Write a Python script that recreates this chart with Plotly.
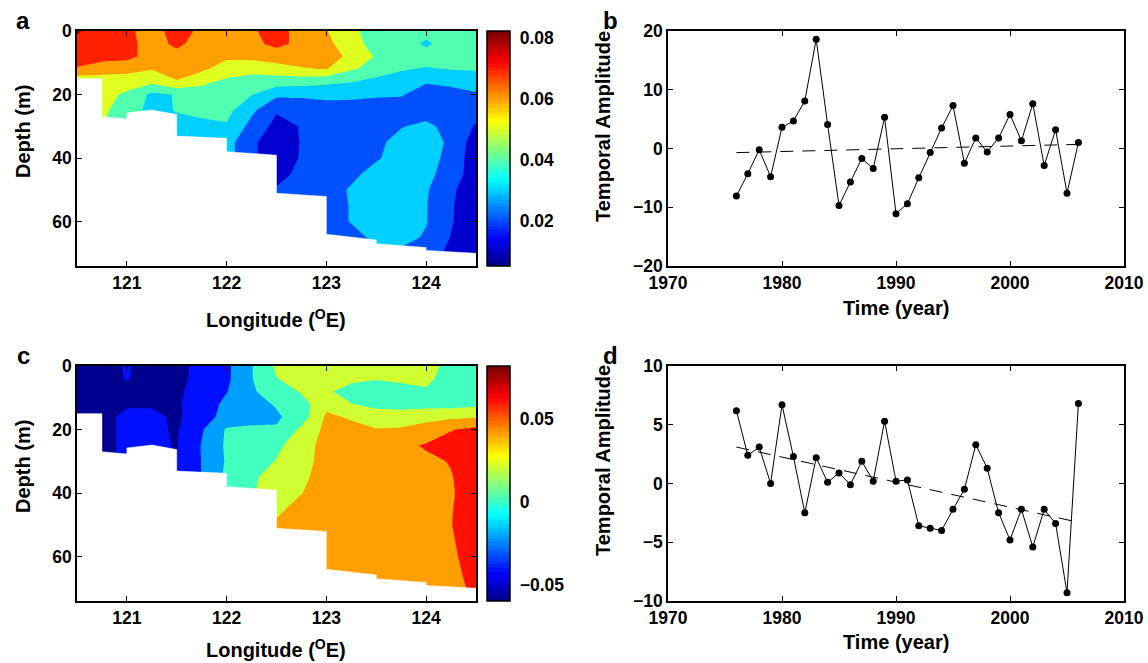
import numpy as np
import plotly.graph_objects as go

W, H = 1148, 663

# ---------------- data ----------------
lons = [120.5, 120.75, 121.0, 121.25, 121.5, 121.75, 122.0, 122.25, 122.5,
        122.75, 123.0, 123.25, 123.5, 123.75, 124.0, 124.25, 124.5]
depths = [0, 4, 8, 12, 16, 20, 25, 30, 35, 40, 45, 50, 55, 60, 65, 70, 74]

# panel a: first spatial mode (rows = depth, cols = longitude)
mode_a = [
    [0.081, 0.076, 0.072, 0.066, 0.074, 0.068, 0.066, 0.069, 0.073, 0.067, 0.0605, 0.052, 0.046, 0.045, 0.044, 0.045, 0.046],
    [0.077, 0.076, 0.073, 0.066, 0.072, 0.066, 0.065, 0.068, 0.072, 0.068, 0.063, 0.053, 0.047, 0.046, 0.038, 0.046, 0.046],
    [0.075, 0.074, 0.073, 0.066, 0.067, 0.066, 0.062, 0.063, 0.066, 0.066, 0.064, 0.058, 0.049, 0.046, 0.045, 0.045, 0.044],
    [0.069, 0.064, 0.063, 0.0605, 0.063, 0.062, 0.055, 0.053, 0.055, 0.059, 0.0605, 0.051, 0.047, 0.041, 0.039, 0.0405, 0.041],
    [0.052, 0.055, 0.055, 0.052, 0.0595, 0.052, 0.048, 0.046, 0.045, 0.044, 0.042, 0.0405, 0.036, 0.035, 0.0305, 0.032, 0.034],
    [0.050, 0.054, 0.048, 0.038, 0.0405, 0.046, 0.045, 0.0405, 0.032, 0.032, 0.033, 0.032, 0.031, 0.0305, 0.027, 0.027, 0.029],
    [0.050, 0.052, 0.045, 0.037, 0.0405, 0.043, 0.043, 0.032, 0.021, 0.023, 0.025, 0.026, 0.026, 0.027, 0.026, 0.025, 0.024],
    [0.050, 0.050, 0.045, 0.037, 0.037, 0.037, 0.039, 0.027, 0.017, 0.0205, 0.025, 0.026, 0.027, 0.0295, 0.032, 0.027, 0.019],
    [0.050, 0.050, 0.045, 0.037, 0.036, 0.036, 0.034, 0.022, 0.014, 0.0205, 0.025, 0.026, 0.028, 0.033, 0.035, 0.028, 0.015],
    [0.050, 0.050, 0.045, 0.037, 0.036, 0.035, 0.034, 0.022, 0.013, 0.021, 0.025, 0.027, 0.029, 0.034, 0.034, 0.027, 0.014],
    [0.050, 0.050, 0.045, 0.037, 0.036, 0.035, 0.034, 0.022, 0.016, 0.023, 0.025, 0.028, 0.033, 0.034, 0.033, 0.025, 0.015],
    [0.050, 0.050, 0.045, 0.037, 0.036, 0.035, 0.034, 0.022, 0.021, 0.024, 0.026, 0.031, 0.034, 0.034, 0.031, 0.022, 0.013],
    [0.050, 0.050, 0.045, 0.037, 0.036, 0.035, 0.034, 0.022, 0.021, 0.024, 0.026, 0.0305, 0.034, 0.035, 0.0305, 0.021, 0.013],
    [0.050, 0.050, 0.045, 0.037, 0.036, 0.035, 0.034, 0.022, 0.021, 0.024, 0.026, 0.0305, 0.034, 0.035, 0.0305, 0.021, 0.012],
    [0.050, 0.050, 0.045, 0.037, 0.036, 0.035, 0.034, 0.022, 0.021, 0.024, 0.026, 0.027, 0.032, 0.033, 0.029, 0.0195, 0.012],
    [0.050, 0.050, 0.045, 0.037, 0.036, 0.035, 0.034, 0.022, 0.021, 0.024, 0.026, 0.027, 0.028, 0.028, 0.024, 0.018, 0.013],
    [0.050, 0.050, 0.045, 0.037, 0.036, 0.035, 0.034, 0.022, 0.021, 0.024, 0.026, 0.027, 0.028, 0.028, 0.024, 0.018, 0.013],
]

# panel c: second spatial mode
mode_c = [
    [-0.055, -0.05, -0.038, -0.05, -0.046, -0.034, -0.024, -0.001, 0.023, 0.03, 0.032, 0.033, 0.032, 0.03, 0.026, 0.015, 0.014],
    [-0.055, -0.05, -0.0385, -0.05, -0.046, -0.033, -0.024, -0.001, 0.0195, 0.025, 0.03, 0.023, 0.021, 0.024, 0.024, 0.012, 0.01],
    [-0.055, -0.05, -0.046, -0.05, -0.043, -0.033, -0.021, -0.002, 0.008, 0.022, 0.022, 0.015, 0.012, 0.013, 0.018, 0.01, 0.008],
    [-0.055, -0.05, -0.043, -0.042, -0.042, -0.032, -0.015, -0.008, 0.002, 0.012, 0.035, 0.0205, 0.014, 0.012, 0.012, 0.012, 0.015],
    [-0.055, -0.048, -0.034, -0.036, -0.043, -0.03, -0.012, -0.008, -0.003, 0.01, 0.043, 0.038, 0.03, 0.03, 0.035, 0.036, 0.038],
    [-0.055, -0.048, -0.034, -0.036, -0.042, -0.022, 0.002, 0.004, 0.002, 0.024, 0.045, 0.045, 0.041, 0.042, 0.046, 0.059, 0.065],
    [-0.055, -0.048, -0.034, -0.036, -0.041, -0.019, 0.003, 0.008, 0.016, 0.03, 0.048, 0.05, 0.05, 0.055, 0.062, 0.067, 0.07],
    [-0.055, -0.048, -0.034, -0.036, -0.0405, -0.0195, 0.002, 0.01, 0.021, 0.033, 0.047, 0.05, 0.051, 0.053, 0.056, 0.061, 0.07],
    [-0.055, -0.048, -0.034, -0.036, -0.0405, -0.0195, 0.004, 0.016, 0.03, 0.036, 0.048, 0.05, 0.05, 0.052, 0.055, 0.059, 0.07],
    [-0.055, -0.048, -0.034, -0.036, -0.0405, -0.0195, 0.005, 0.018, 0.03, 0.0395, 0.048, 0.05, 0.05, 0.052, 0.054, 0.058, 0.07],
    [-0.055, -0.048, -0.034, -0.036, -0.0405, -0.0195, 0.005, 0.018, 0.037, 0.045, 0.048, 0.05, 0.05, 0.052, 0.054, 0.059, 0.07],
    [-0.055, -0.048, -0.034, -0.036, -0.0405, -0.0195, 0.005, 0.018, 0.042, 0.045, 0.048, 0.05, 0.05, 0.052, 0.054, 0.0595, 0.07],
    [-0.055, -0.048, -0.034, -0.036, -0.0405, -0.0195, 0.005, 0.018, 0.042, 0.045, 0.048, 0.05, 0.05, 0.052, 0.054, 0.058, 0.07],
    [-0.055, -0.048, -0.034, -0.036, -0.0405, -0.0195, 0.005, 0.018, 0.042, 0.045, 0.048, 0.05, 0.05, 0.052, 0.054, 0.056, 0.07],
    [-0.055, -0.048, -0.034, -0.036, -0.0405, -0.0195, 0.005, 0.018, 0.042, 0.045, 0.048, 0.05, 0.05, 0.052, 0.054, 0.054, 0.068],
    [-0.055, -0.048, -0.034, -0.036, -0.0405, -0.0195, 0.005, 0.018, 0.042, 0.045, 0.048, 0.05, 0.05, 0.052, 0.053, 0.052, 0.065],
    [-0.055, -0.048, -0.034, -0.036, -0.0405, -0.0195, 0.005, 0.018, 0.042, 0.045, 0.048, 0.05, 0.05, 0.052, 0.053, 0.052, 0.065],
]

# sea-floor profile (longitude, depth in m)
bottom_lon = [120.5, 120.75, 120.75, 121.0, 121.0, 121.25, 121.5, 121.5, 122.0, 122.0,
              122.5, 122.5, 123.0, 123.0, 123.5, 123.5, 124.0, 124.0, 124.5]
bottom_depth = [15.0, 15.0, 27.0, 27.7, 25.8, 24.9, 26.3, 33.1, 33.8, 38.0,
                39.1, 51.1, 52.1, 64.0, 65.8, 67.0, 68.2, 69.1, 70.0]

levels_a = [0.01, 0.02, 0.03, 0.04, 0.05, 0.06, 0.07, 0.08]
clim_a = [0.005, 0.0824]
levels_c = [-0.04, -0.02, 0.0, 0.02, 0.04, 0.06]
clim_c = [-0.0596, 0.0816]
cbar_ticks_a = [0.02, 0.04, 0.06, 0.08]
cbar_text_a = ["0.02", "0.04", "0.06", "0.08"]
cbar_ticks_c = [-0.05, 0.0, 0.05]
cbar_text_c = ["\u22120.05", "0", "0.05"]

years = [1976, 1977, 1978, 1979, 1980, 1981, 1982, 1983, 1984, 1985, 1986,
         1987, 1988, 1989, 1990, 1991, 1992, 1993, 1994, 1995, 1996, 1997,
         1998, 1999, 2000, 2001, 2002, 2003, 2004, 2005, 2006]
amp_b = [-8.1, -4.3, -0.2, -4.8, 3.6, 4.7, 8.1, 18.6, 4.1, -9.7, -5.7, -1.7,
         -3.4, 5.3, -11.1, -9.4, -5.0, -0.7, 3.5, 7.3, -2.5, 1.8, -0.6, 1.8,
         5.8, 1.3, 7.6, -2.9, 3.2, -7.6, 1.0]
amp_d = [6.2, 2.4, 3.1, 0.0, 6.7, 2.3, -2.5, 2.2, 0.1, 0.9, -0.1, 1.9, 0.2,
         5.3, 0.2, 0.3, -3.6, -3.8, -4.0, -2.2, -0.5, 3.3, 1.3, -2.5, -4.8,
         -2.2, -5.4, -2.2, -3.4, -9.3, 6.8]
trend_years = [1976, 2006]
trend_b = [-0.7, 0.7]
trend_d = [3.1, -3.3]

# ---------------- styling helpers ----------------
FONT = "Liberation Sans, Arial, Helvetica, sans-serif"


def jet64():
    m, n = 64, 16
    u = [i / n for i in range(1, n + 1)] + [1.0] * (n - 1) + [i / n for i in range(n, 0, -1)]
    g0 = 8
    J = np.zeros((m, 3))
    for k, val in enumerate(u, start=1):
        gi = g0 + k
        ri = gi + n
        bi = gi - n
        if 1 <= ri <= m:
            J[ri - 1, 0] = val
        if 1 <= gi <= m:
            J[gi - 1, 1] = val
        if 1 <= bi <= m:
            J[bi - 1, 2] = val
    return J


JET = jet64()


def rgb(c):
    return "rgb(%d,%d,%d)" % tuple(int(round(v * 255)) for v in c)


def jet_index(v, cmin, cmax):
    i = int(np.floor((v - cmin) / (cmax - cmin) * 64))
    return min(max(i, 0), 63)


def fill_scale(levels, clim):
    cols = [rgb(JET[0])] + [rgb(JET[jet_index(L, *clim)]) for L in levels]
    nb = len(cols)
    cs = []
    for k, c in enumerate(cols):
        lo = max(0.0, (k - 0.5) / (nb - 1))
        hi = min(1.0, (k + 0.5) / (nb - 1))
        cs.append([lo, c])
        cs.append([hi, c])
    return cs


def jet_scale():
    cs = []
    for i in range(64):
        c = rgb(JET[i])
        cs.append([i / 64, c])
        cs.append([(i + 1) / 64, c])
    return cs


def px(x):
    return x / W


def py(y):
    return 1 - y / H


tickfont = dict(family=FONT, size=17.5, color="black", weight="bold")

fig = go.Figure()

panels = [
    dict(z=mode_a, levels=levels_a, clim=clim_a, xa="x", ya="y", top=31,
         ticks=cbar_ticks_a, text=cbar_text_a),
    dict(z=mode_c, levels=levels_c, clim=clim_c, xa="x3", ya="y3", top=366,
         ticks=cbar_ticks_c, text=cbar_text_c),
]
for p in panels:
    lv = p["levels"]
    fig.add_trace(go.Contour(
        x=lons, y=depths, z=p["z"], autocontour=False,
        contours=dict(start=lv[0], end=lv[-1], size=lv[1] - lv[0],
                      coloring="fill", showlines=False),
        line=dict(width=0, smoothing=0), colorscale=fill_scale(lv, p["clim"]),
        showscale=False, hoverinfo="skip", xaxis=p["xa"], yaxis=p["ya"]))
    fig.add_trace(go.Scatter(
        x=bottom_lon + [124.5, 120.5], y=bottom_depth + [80, 80],
        fill="toself", fillcolor="white", mode="lines",
        line=dict(width=0.5, color="white"), hoverinfo="skip",
        xaxis=p["xa"], yaxis=p["ya"]))
    fig.add_trace(go.Scatter(
        x=[None], y=[None], mode="markers", hoverinfo="skip",
        marker=dict(color=[p["clim"][0]], colorscale=jet_scale(),
                    cmin=p["clim"][0], cmax=p["clim"][1], showscale=True,
                    colorbar=dict(x=px(487), xanchor="left", y=py(p["top"]),
                                  yanchor="top", len=235, lenmode="pixels",
                                  thickness=23, thicknessmode="pixels",
                                  xpad=0, ypad=0, outlinewidth=1.5,
                                  outlinecolor="black", tickvals=p["ticks"],
                                  ticktext=p["text"], ticks="outside",
                                  ticklen=6, tickcolor="rgba(0,0,0,0)",
                                  tickfont=tickfont)),
        xaxis=p["xa"], yaxis=p["ya"]))

for amp, trend, xa, ya in [(amp_b, trend_b, "x2", "y2"), (amp_d, trend_d, "x4", "y4")]:
    fig.add_trace(go.Scatter(x=trend_years, y=trend, mode="lines",
                             line=dict(color="black", width=1, dash="13px,9px"),
                             hoverinfo="skip", xaxis=xa, yaxis=ya))
    fig.add_trace(go.Scatter(x=years, y=amp, mode="lines+markers",
                             line=dict(color="black", width=1),
                             marker=dict(color="black", size=7),
                             hoverinfo="skip", xaxis=xa, yaxis=ya))

axis_common = dict(ticks="inside", ticklen=5, tickwidth=1, tickcolor="black",
                   showline=True, linewidth=1.5, linecolor="black",
                   mirror="ticks", showgrid=False, zeroline=False,
                   tickfont=tickfont, automargin=False)

left_dom = [px(77), px(476)]
right_dom = [px(668), px(1124)]
top_dom = [py(266), py(31)]
bot_dom = [py(601), py(366)]

fig.update_layout(
    width=W, height=H, margin=dict(l=0, r=0, t=0, b=0, autoexpand=False),
    paper_bgcolor="white", plot_bgcolor="white", showlegend=False,
    xaxis=dict(domain=left_dom, anchor="y", range=[120.5, 124.5],
               tickvals=[121, 122, 123, 124], **axis_common),
    yaxis=dict(domain=top_dom, anchor="x", range=[74, 0],
               tickvals=[0, 20, 40, 60], **axis_common),
    xaxis3=dict(domain=left_dom, anchor="y3", range=[120.5, 124.5],
                tickvals=[121, 122, 123, 124], **axis_common),
    yaxis3=dict(domain=bot_dom, anchor="x3", range=[74, 0],
                tickvals=[0, 20, 40, 60], **axis_common),
    xaxis2=dict(domain=right_dom, anchor="y2", range=[1970, 2010],
                tickvals=[1970, 1980, 1990, 2000, 2010], **axis_common),
    yaxis2=dict(domain=top_dom, anchor="x2", range=[-20, 20],
                tickvals=[-20, -10, 0, 10, 20], **axis_common),
    xaxis4=dict(domain=right_dom, anchor="y4", range=[1970, 2010],
                tickvals=[1970, 1980, 1990, 2000, 2010], **axis_common),
    yaxis4=dict(domain=bot_dom, anchor="x4", range=[-10, 10],
                tickvals=[-10, -5, 0, 5, 10], **axis_common),
)

titlefont = dict(family=FONT, size=20, color="black", weight="bold")
letterfont = dict(family=FONT, size=24, color="black", weight="bold")
annots = [
    ("Longitude (<sup>O</sup>E)", 276, 318, 0, titlefont),
    ("Longitude (<sup>O</sup>E)", 276, 648, 0, titlefont),
    ("Time (year)", 896, 308, 0, titlefont),
    ("Time (year)", 896, 642, 0, titlefont),
    ("Depth (m)", 23, 132, -90, titlefont),
    ("Depth (m)", 23, 467, -90, titlefont),
    ("Temporal Amplitude", 603, 127, -90, titlefont),
    ("Temporal Amplitude", 603, 461, -90, titlefont),
    ("a", 23, 20, 0, letterfont),
    ("b", 610, 20, 0, letterfont),
    ("c", 23, 355, 0, letterfont),
    ("d", 610, 355, 0, letterfont),
]
for text, x, y, ang, f in annots:
    fig.add_annotation(text=text, x=px(x), y=py(y), xref="paper", yref="paper",
                       xanchor="center", yanchor="middle", showarrow=False,
                       textangle=ang, font=f)

fig.write_html("out.html", config={"displayModeBar": False},
               post_script="document.body.style.margin='0px';"
                           "document.body.style.padding='0px';")
